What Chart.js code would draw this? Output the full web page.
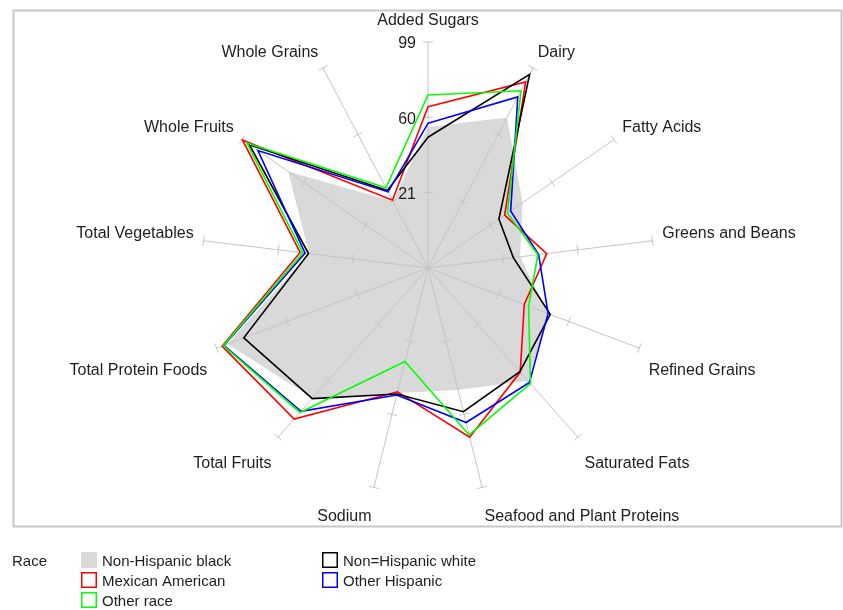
<!DOCTYPE html>
<html>
<head>
<meta charset="utf-8">
<title>Healthy Eating Index components by race</title>
<script src="https://cdn.jsdelivr.net/npm/chart.js@4.4.1/dist/chart.umd.min.js"></script>
<style>
  html, body { margin: 0; padding: 0; background: #ffffff; }
  canvas { display: block; }
</style>
</head>
<body>
<canvas id="radar" width="843" height="610"></canvas>
<script>
// Spokes, clockwise from the top
const categories = [
  'Added Sugars', 'Dairy', 'Fatty Acids', 'Greens and Beans', 'Refined Grains',
  'Saturated Fats', 'Seafood and Plant Proteins', 'Sodium', 'Total Fruits',
  'Total Protein Foods', 'Total Vegetables', 'Whole Fruits', 'Whole Grains'
];

// Component scores per group
const nonHispanicBlack = [55, 70, 41.5, 30, 48.5, 60, 47, 48.6, 72, 93, 44, 70, 21];
const mexicanAmerican  = [65.5, 90.8, 30.2, 43.9, 35.3, 54, 72.2, 48, 86.5, 96, 48.7, 98.7, 21.6];
const nonHispanicWhite = [49.7, 95.2, 26.6, 26.5, 49.7, 53.7, 58.6, 49.2, 72.3, 84, 44.3, 94.3, 27.3];
const otherHispanic    = [56.9, 82, 34, 39.7, 48.5, 61.2, 64.4, 49.7, 81.1, 95, 46.1, 89, 26.5];
const otherRace        = [71.6, 85.6, 32, 39.3, 37.7, 62, 71, 31.9, 81.9, 95.3, 47.3, 95.9, 28.9];

// Radial axis
const axisMin = -18;
const axisMax = 99;
const tickValues = [21, 60, 99];
const legendTitle = 'Race';

const FONT = '"Liberation Sans", Arial, Helvetica, sans-serif';
const SPOKE_COLOR = '#c4c4c4';
const TEXT_COLOR = '#1e1e1e';

// Draws the frame, spokes with tick marks, value labels, spoke names and the legend
const radarDecor = {
  id: 'radarDecor',
  beforeDraw(chart) {
    const ctx = chart.ctx;
    ctx.save();
    ctx.strokeStyle = '#c8c8c8';
    ctx.lineWidth = 2;
    ctx.strokeRect(13.5, 10.5, 828, 516);
    ctx.restore();
  },
  afterDatasetDraw(chart, args) {
    // spokes sit on top of the filled area, under the outlines
    if (args.index !== 0) return;
    const scale = chart.scales.r;
    const ctx = chart.ctx;
    const outer = scale.getDistanceFromCenterForValue(axisMax);
    ctx.save();
    ctx.strokeStyle = SPOKE_COLOR;
    ctx.lineWidth = 1;
    for (let i = 0; i < categories.length; i++) {
      const end = scale.getPointPosition(i, outer);
      ctx.beginPath();
      ctx.moveTo(scale.xCenter, scale.yCenter);
      ctx.lineTo(end.x, end.y);
      ctx.stroke();
      const a = scale.getIndexAngle(i) - Math.PI / 2;
      const px = -Math.sin(a), py = Math.cos(a);
      tickValues.forEach(v => {
        const p = scale.getPointPosition(i, scale.getDistanceFromCenterForValue(v));
        ctx.beginPath();
        ctx.moveTo(p.x - 5 * px, p.y - 5 * py);
        ctx.lineTo(p.x + 5 * px, p.y + 5 * py);
        ctx.stroke();
      });
    }
    ctx.restore();
  },
  afterDraw(chart) {
    const scale = chart.scales.r;
    const ctx = chart.ctx;
    ctx.save();
    ctx.fillStyle = TEXT_COLOR;

    // value labels along the first spoke
    ctx.font = '16px ' + FONT;
    ctx.textAlign = 'right';
    ctx.textBaseline = 'middle';
    tickValues.forEach(v => {
      const p = scale.getPointPosition(0, scale.getDistanceFromCenterForValue(v));
      ctx.fillText(String(v), p.x - 12, p.y + 2);
    });

    // spoke names
    categories.forEach((name, i) => {
      const t = scale.getIndexAngle(i);
      const s = Math.sin(t), c = Math.cos(t);
      const p = scale.getPointPosition(i, scale.drawingArea + 10);
      ctx.textAlign = Math.abs(s) < 0.05 ? 'center' : (s > 0 ? 'left' : 'right');
      let y;
      if (c > 0.95) y = p.y - 11;
      else if (c > 0) y = p.y - 6;
      else y = p.y + 19;
      ctx.fillText(name, p.x, y);
    });

    // legend
    ctx.font = '15px ' + FONT;
    ctx.textAlign = 'left';
    ctx.fillText(legendTitle, 12, 562);
    const slots = [[81, 560], [81, 580], [81, 600], [322, 560], [322, 580]];
    chart.data.datasets.forEach((ds, k) => {
      const [x, yc] = slots[k];
      if (ds.fill) {
        ctx.fillStyle = ds.backgroundColor;
        ctx.fillRect(x, yc - 8, 16, 16);
      } else {
        ctx.strokeStyle = ds.borderColor;
        ctx.lineWidth = 1.5;
        ctx.strokeRect(x + 0.75, yc - 7.25, 14.5, 14.5);
      }
      ctx.fillStyle = TEXT_COLOR;
      ctx.fillText(ds.label, x + 21, yc + 1.5);
    });
    ctx.restore();
  }
};

const lineSeries = (label, values, color, order) => ({
  label, data: values, fill: false, order,
  borderColor: color, backgroundColor: color,
  borderWidth: 1.6, pointRadius: 0, pointHoverRadius: 0
});

new Chart(document.getElementById('radar'), {
  type: 'radar',
  data: {
    labels: categories,
    datasets: [
      {
        label: 'Non-Hispanic black', data: nonHispanicBlack, fill: 'start', order: 10,
        backgroundColor: '#d9d9d9', borderColor: '#d9d9d9', borderWidth: 0,
        pointRadius: 0, pointHoverRadius: 0
      },
      lineSeries('Mexican American', mexicanAmerican, '#ff0000', 4),
      lineSeries('Other race', otherRace, '#00ff00', 1),
      lineSeries('Non=Hispanic white', nonHispanicWhite, '#000000', 3),
      lineSeries('Other Hispanic', otherHispanic, '#0000ff', 2)
    ]
  },
  options: {
    responsive: false,
    devicePixelRatio: 1,
    animation: false,
    layout: { padding: { left: 202, right: 189, top: 42, bottom: 116 } },
    elements: { line: { tension: 0 } },
    plugins: { legend: { display: false }, tooltip: { enabled: false } },
    scales: {
      r: {
        min: axisMin,
        max: axisMax,
        ticks: { display: false, stepSize: 39 },
        grid: { display: false },
        angleLines: { display: false },
        pointLabels: { display: false }
      }
    }
  },
  plugins: [radarDecor]
});
</script>
</body>
</html>
